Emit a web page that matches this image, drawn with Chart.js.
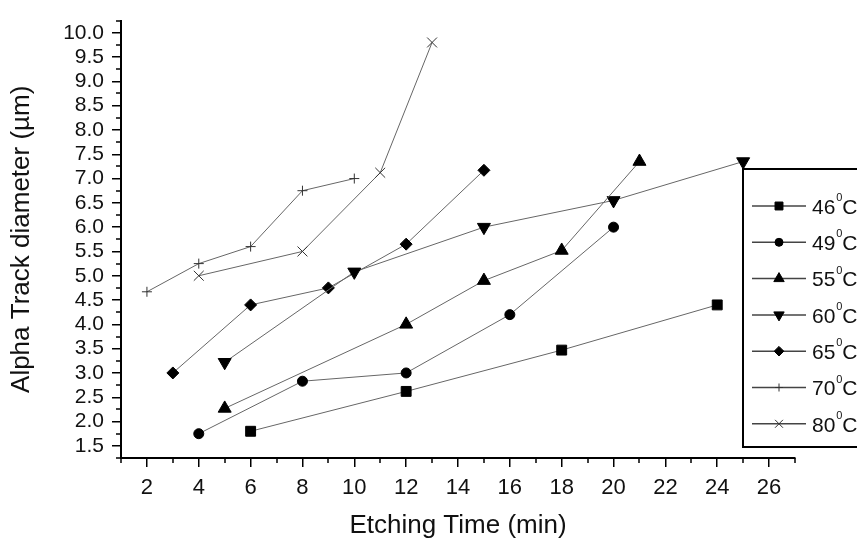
<!DOCTYPE html>
<html>
<head>
<meta charset="utf-8">
<script src="https://cdn.jsdelivr.net/npm/chart.js@4.4.1/dist/chart.umd.min.js"></script>
<style>
  html, body { margin: 0; padding: 0; background: #fff; }
  #wrap { width: 857px; height: 539px; position: relative; }
</style>
</head>
<body>
<div id="wrap"><canvas id="c"></canvas></div>
<script>
// data
const temps = ['46', '49', '55', '60', '65', '70', '80'];
const t46 = [[6, 1.8], [12, 2.62], [18, 3.47], [24, 4.4]];
const t49 = [[4, 1.75], [8, 2.83], [12, 3.0], [16, 4.2], [20, 6.0]];
const t55 = [[5, 2.27], [12, 4.0], [15, 4.9], [18, 5.52], [21, 7.35]];
const t60 = [[5, 3.22], [10, 5.08], [15, 6.0], [20, 6.55], [25, 7.35]];
const t65 = [[3, 3.0], [6, 4.4], [9, 4.75], [12, 5.65], [15, 7.17]];
const t70 = [[2, 4.67], [4, 5.25], [6, 5.6], [8, 6.75], [10, 7.0]];
const t80 = [[4, 5.0], [8, 5.5], [11, 7.12], [13, 9.8]];
const xTicks = [2, 4, 6, 8, 10, 12, 14, 16, 18, 20, 22, 24, 26];
const yTicks = [1.5, 2.0, 2.5, 3.0, 3.5, 4.0, 4.5, 5.0, 5.5, 6.0, 6.5, 7.0, 7.5, 8.0, 8.5, 9.0, 9.5, 10.0];

const FONT = '"Liberation Sans", Arial, sans-serif';
const series = [t46, t49, t55, t60, t65, t70, t80];
const styles = [
  { pointStyle: 'rect', radius: 7, rotation: 0 },
  { pointStyle: 'circle', radius: 5, rotation: 0 },
  { pointStyle: 'triangle', radius: 7.5, rotation: 0 },
  { pointStyle: 'triangle', radius: 7.5, rotation: 180 },
  { pointStyle: 'rectRot', radius: 6, rotation: 0 },
  { pointStyle: 'cross', radius: 5, rotation: 0 },
  { pointStyle: 'crossRot', radius: 7, rotation: 0 }
];

const datasets = series.map((s, i) => ({
  label: temps[i] + '\u2070C',
  data: s.map(p => ({ x: p[0], y: p[1] })),
  borderColor: '#666',
  borderWidth: 1,
  pointStyle: styles[i].pointStyle,
  pointRadius: styles[i].radius,
  pointRotation: styles[i].rotation,
  pointBackgroundColor: '#000',
  pointBorderColor: i >= 5 ? '#333' : '#000',
  pointBorderWidth: 1,
  fill: false,
  tension: 0
}));

// minor ticks (odd x, quarter y)
const minorTicks = {
  id: 'minorTicks',
  afterDraw(chart) {
    const ctx = chart.ctx, xs = chart.scales.x, ys = chart.scales.y;
    const a = chart.chartArea;
    ctx.save();
    ctx.strokeStyle = '#000';
    ctx.lineWidth = 1.5;
    ctx.beginPath();
    for (let v = 1; v <= 27; v += 2) {
      const px = Math.round(xs.getPixelForValue(v));
      ctx.moveTo(px, a.bottom); ctx.lineTo(px, a.bottom + 5);
    }
    for (let v = 1.25; v <= 10.25; v += 0.5) {
      const py = Math.round(ys.getPixelForValue(v));
      ctx.moveTo(a.left, py); ctx.lineTo(a.left - 5, py);
    }
    ctx.stroke();
    ctx.restore();
  }
};

// legend in a box, line-marker-line then label
const boxLegend = {
  id: 'boxLegend',
  afterDraw(chart) {
    const ctx = chart.ctx;
    ctx.save();
    ctx.strokeStyle = '#000';
    ctx.lineWidth = 2;
    ctx.strokeRect(743, 169, 140, 278);
    chart.data.datasets.forEach((ds, i) => {
      const y = 206 + i * 36.3;
      ctx.strokeStyle = '#444';
      ctx.lineWidth = 1.5;
      ctx.beginPath();
      ctx.moveTo(752, y); ctx.lineTo(806, y);
      ctx.stroke();
      ctx.fillStyle = '#000';
      ctx.strokeStyle = ds.pointBorderColor;
      ctx.lineWidth = 1;
      Chart.helpers.drawPoint(ctx, {
        pointStyle: ds.pointStyle, radius: ds.pointRadius * 0.8, rotation: ds.pointRotation, borderWidth: 1
      }, 779, y);
      ctx.fillStyle = '#111';
      ctx.textBaseline = 'middle';
      ctx.font = '21px ' + FONT;
      const num = temps[i];
      ctx.fillText(num, 812, y + 2);
      const w = ctx.measureText(num).width;
      ctx.font = '11px ' + FONT;
      ctx.fillText('0', 812 + w + 1, y - 8);
      ctx.font = '21px ' + FONT;
      ctx.fillText('C', 812 + w + 7, y + 2);
    });
    ctx.restore();
  }
};

new Chart(document.getElementById('c'), {
  type: 'line',
  data: { datasets },
  plugins: [minorTicks, boxLegend],
  options: {
    responsive: true,
    maintainAspectRatio: false,
    animation: false,
    layout: { padding: { top: 15, right: 62, left: 0, bottom: 0 } },
    plugins: { legend: { display: false }, tooltip: { enabled: false } },
    scales: {
      x: {
        type: 'linear',
        min: 1, max: 27,
        afterFit(s) { s.height = 81; },
        afterBuildTicks(s) { s.ticks = xTicks.map(v => ({ value: v })); },
        grid: { drawOnChartArea: false, drawTicks: true, tickLength: 9, color: '#000', lineWidth: 1.5 },
        border: { display: true, color: '#000', width: 2 },
        ticks: { color: '#111', font: { family: FONT, size: 22 }, padding: 8, maxRotation: 0, autoSkip: false },
        title: { display: true, text: 'Etching Time (min)', color: '#111', font: { family: FONT, size: 26, lineHeight: 1.0 }, padding: { top: 0, bottom: 0 } }
      },
      y: {
        type: 'linear',
        min: 1.25, max: 10.25,
        afterFit(s) { s.width = 121; },
        afterBuildTicks(s) { s.ticks = yTicks.map(v => ({ value: v })); },
        grid: { drawOnChartArea: false, drawTicks: true, tickLength: 9, color: '#000', lineWidth: 1.5 },
        border: { display: true, color: '#000', width: 2 },
        ticks: { color: '#111', font: { family: FONT, size: 21 }, padding: 8, autoSkip: false,
          callback: v => v.toFixed(1) },
        title: { display: true, text: 'Alpha Track diameter (\u00b5m)', color: '#111', font: { family: FONT, size: 26 }, padding: { top: 6, bottom: 4 } }
      }
    }
  }
});
</script>
</body>
</html>
